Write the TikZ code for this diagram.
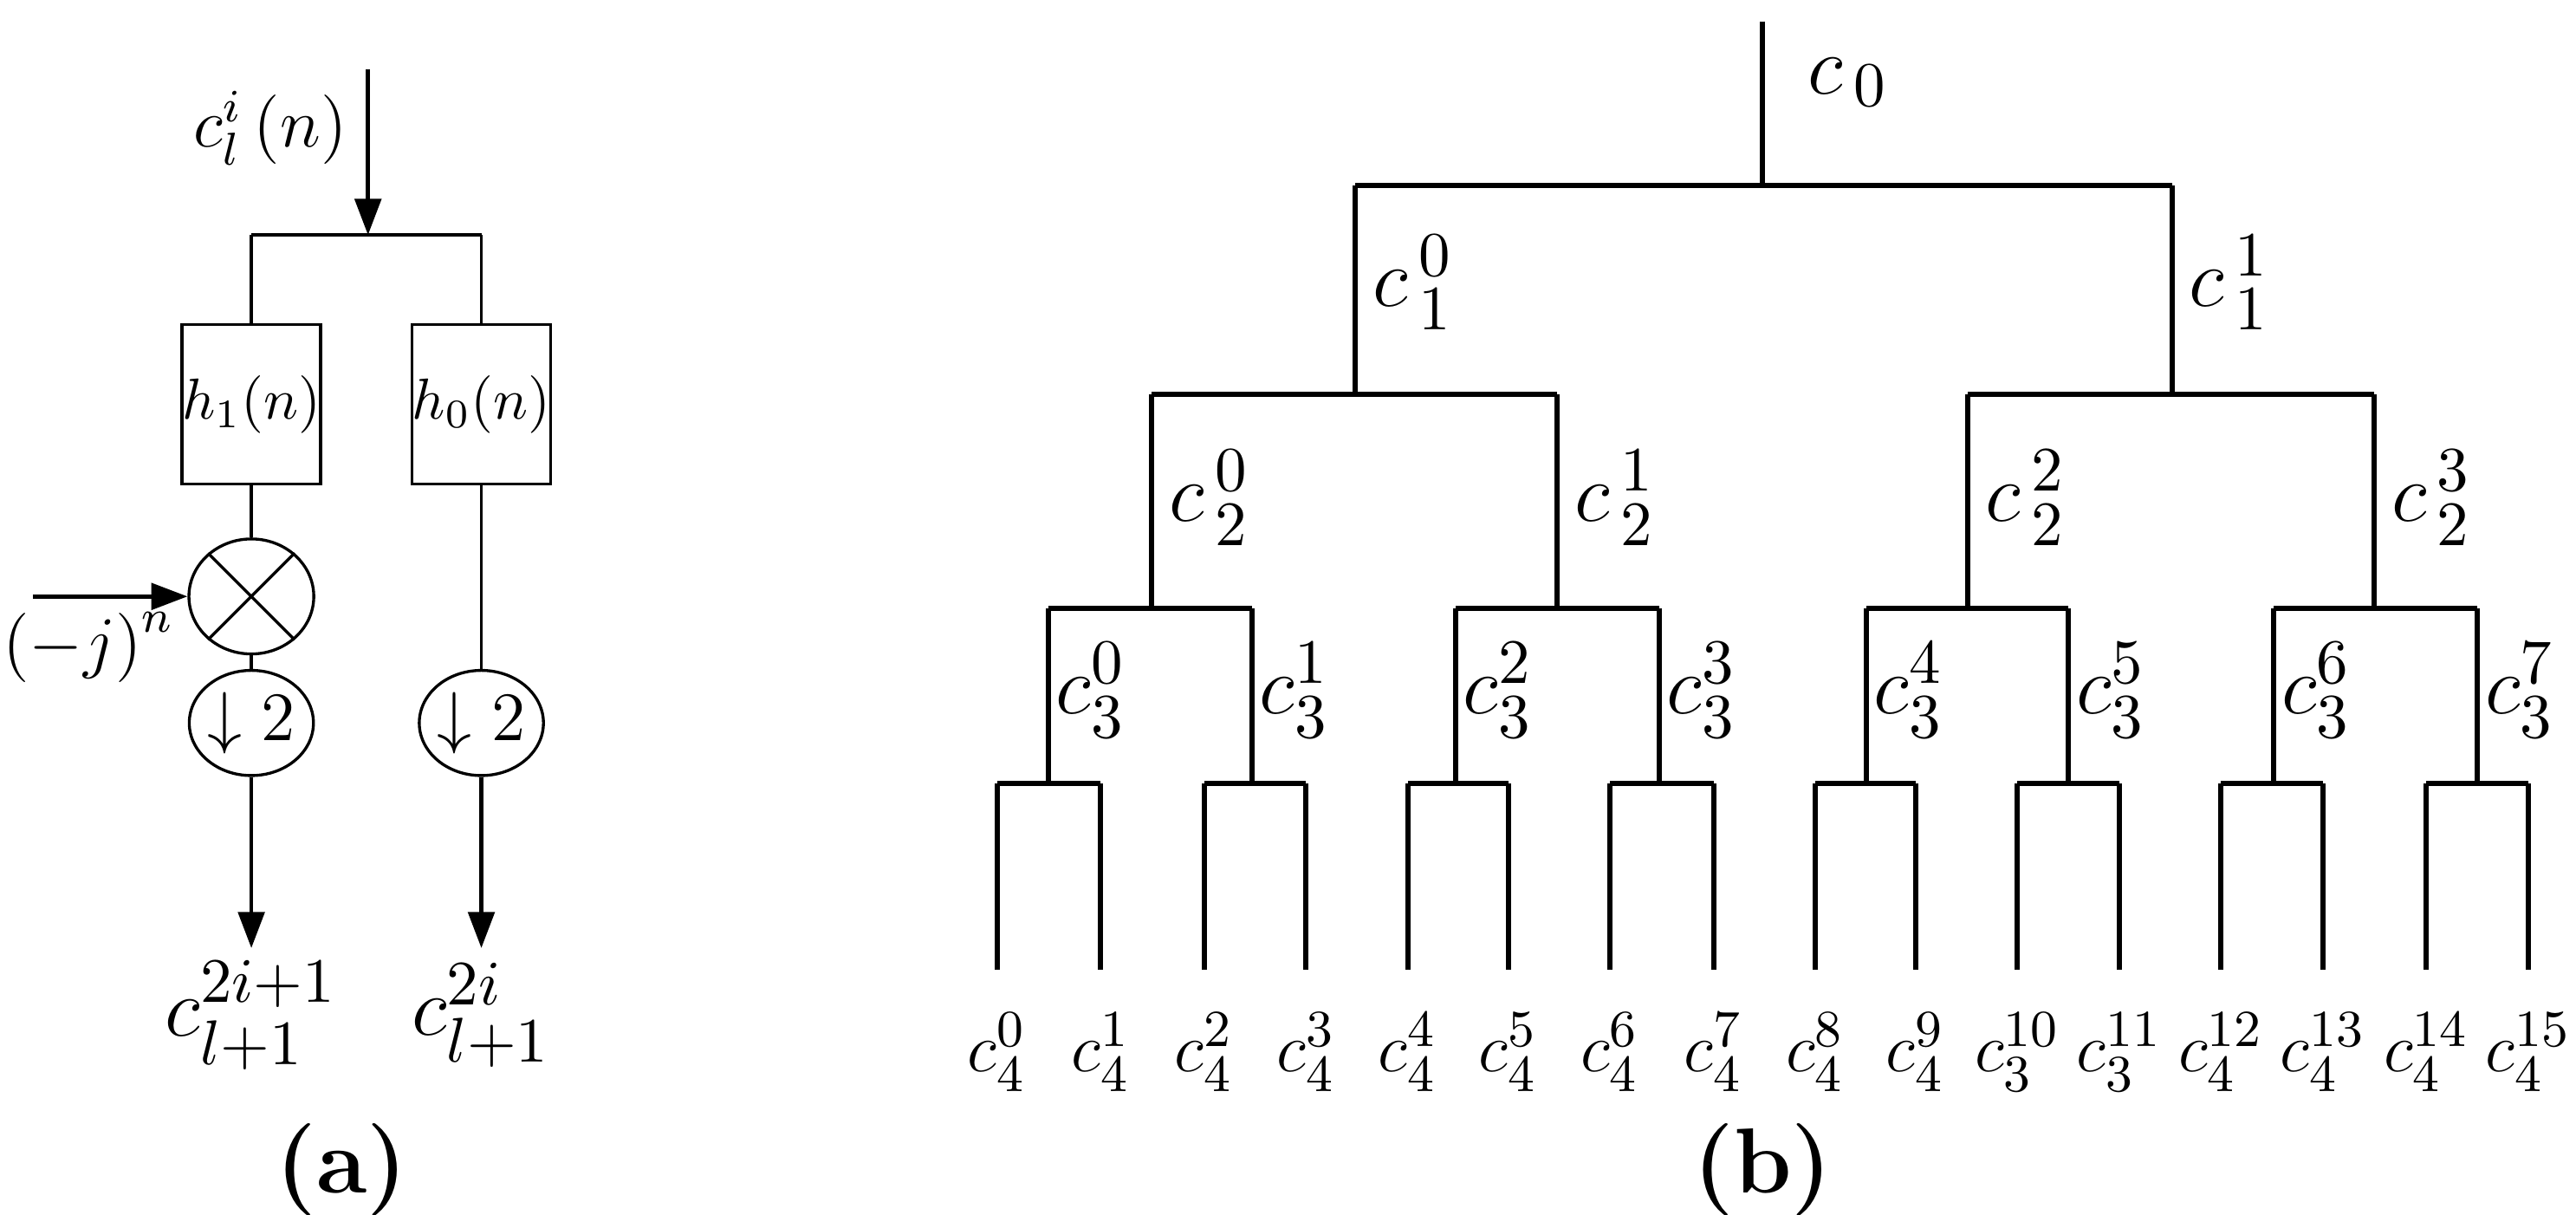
\documentclass[tikz,border=0pt]{standalone}
\usepackage{amsmath}
\usepackage{tikz}
\usetikzlibrary{shapes.geometric,arrows.meta}
\tikzset{
  tree/.style={line width=0.9pt},
  sig/.style={line width=0.5pt},
  arr/.style={line width=0.7pt,-{Triangle[length=2.2mm,width=1.6mm]}},
  lab/.style={font=\fontsize{15}{18}\selectfont,inner sep=0pt},
  alab/.style={font=\fontsize{12}{14}\selectfont,inner sep=0pt},
  leaf/.style={font=\fontsize{13}{16}\selectfont,inner sep=0pt,anchor=north},
  filt/.style={draw,line width=0.5pt,minimum width=7.5mm,minimum height=9.7mm,inner sep=0pt,font=\normalsize},
  ds/.style={draw,line width=0.5pt,ellipse,minimum width=6.6mm,minimum height=6.4mm,inner sep=0pt,font=\large},
}
\begin{document}
\begin{tikzpicture}[x=0.1mm,y=-0.1mm]
\useasboundingbox (0,0) rectangle (1568,739);

% (a) filter stage
\coordinate (in) at (224,42);
\coordinate (sp) at (224,143);
\coordinate (spl) at (153,143);
\coordinate (spr) at (293,143);
\node[filt] (h1) at (153,246) {$h_1(n)$};
\node[filt] (h0) at (293,246) {$h_0(n)$};
\node[draw,line width=0.5pt,ellipse,minimum width=7.6mm,minimum height=7mm,inner sep=0pt] (mul) at (153,363) {};
\node[ds] (d1) at (153,440) {$\downarrow 2$};
\node[ds] (d0) at (293,440) {$\downarrow 2$};
\coordinate (jn) at (20,363);
\coordinate (o1) at (153,577);
\coordinate (o0) at (293,577);

\draw[arr] (in) -- (sp);
\draw[sig] (spl) -- (spr);
\draw[sig] (spl) -- (h1.north);
\draw[sig] (spr) -- (h0.north);
\draw[sig] (h1) -- (mul);
\draw[sig] (mul.45) -- (mul.225);
\draw[sig] (mul.135) -- (mul.315);
\draw[arr] (jn) -- (mul);
\draw[sig] (mul) -- (d1);
\draw[sig] (h0) -- (d0);
\draw[arr] (d1) -- (o1);
\draw[arr] (d0) -- (o0);

\node[alab,anchor=east] (cin) at (212,78) {$c_l^i\left(n\right)$};
\node[alab] (jlab) at (54,394) {$\left(-j\right)^n$};
\node[lab] (c1) at (153,618) {$c_{l+1}^{2i+1}$};
\node[lab] (c0) at (293,618) {$c_{l+1}^{2i}$};
\node[font=\fontsize{16}{19}\selectfont\bfseries] (a) at (208,712) {(a)};

% (b) packet tree
\coordinate (n0) at (1073,13);  \coordinate (n0b) at (1073,113);
\coordinate (n10) at (825,113); \coordinate (n10b) at (825,240);
\coordinate (n11) at (1322,113); \coordinate (n11b) at (1322,240);
\coordinate (n20) at (701,240); \coordinate (n20b) at (701,370);
\coordinate (n21) at (948,240); \coordinate (n21b) at (948,370);
\coordinate (n22) at (1198,240); \coordinate (n22b) at (1198,370);
\coordinate (n23) at (1445,240); \coordinate (n23b) at (1445,370);
\coordinate (n30) at (638,370); \coordinate (n30b) at (638,477);
\coordinate (n31) at (762,370); \coordinate (n31b) at (762,477);
\coordinate (n32) at (886,370); \coordinate (n32b) at (886,477);
\coordinate (n33) at (1010,370); \coordinate (n33b) at (1010,477);
\coordinate (n34) at (1136,370); \coordinate (n34b) at (1136,477);
\coordinate (n35) at (1259,370); \coordinate (n35b) at (1259,477);
\coordinate (n36) at (1384,370); \coordinate (n36b) at (1384,477);
\coordinate (n37) at (1508,370); \coordinate (n37b) at (1508,477);

\draw[tree] (n0) -- (n0b);
\draw[tree] (n10) -- (n11);
\draw[tree] (n10) -- (n10b);
\draw[tree] (n11) -- (n11b);
\draw[tree] (n20) -- (n21);
\draw[tree] (n22) -- (n23);
\draw[tree] (n20) -- (n20b);
\draw[tree] (n21) -- (n21b);
\draw[tree] (n22) -- (n22b);
\draw[tree] (n23) -- (n23b);
\draw[tree] (n30) -- (n31);
\draw[tree] (n32) -- (n33);
\draw[tree] (n34) -- (n35);
\draw[tree] (n36) -- (n37);
\draw[tree] (n30) -- (n30b);
\draw[tree] (n31) -- (n31b);
\draw[tree] (n32) -- (n32b);
\draw[tree] (n33) -- (n33b);
\draw[tree] (n34) -- (n34b);
\draw[tree] (n35) -- (n35b);
\draw[tree] (n36) -- (n36b);
\draw[tree] (n37) -- (n37b);

\foreach \k/\x in {0/607,1/670,2/733,3/795,4/857,5/918,6/980,7/1043,
                   8/1105,9/1166,10/1228,11/1290,12/1352,13/1414,14/1477,15/1539}{
  \coordinate (n4\k) at (\x,477);
  \coordinate (n4\k b) at (\x,590);
}
\draw[tree] (n40) -- (n41);
\draw[tree] (n42) -- (n43);
\draw[tree] (n44) -- (n45);
\draw[tree] (n46) -- (n47);
\draw[tree] (n48) -- (n49);
\draw[tree] (n410) -- (n411);
\draw[tree] (n412) -- (n413);
\draw[tree] (n414) -- (n415);
\foreach \k in {0,...,15}{
  \draw[tree] (n4\k) -- (n4\k b);
}

\node[lab,anchor=west] (l0) at (1100,50) {$c_{\,0}$};
\node[lab,anchor=west] (l10) at (835,172) {$c_{\,1}^{\,0}$};
\node[lab,anchor=west] (l11) at (1332,172) {$c_{\,1}^{\,1}$};
\node[lab,anchor=west] (l20) at (711,303) {$c_{\,2}^{\,0}$};
\node[lab,anchor=west] (l21) at (958,303) {$c_{\,2}^{\,1}$};
\node[lab,anchor=west] (l22) at (1208,303) {$c_{\,2}^{\,2}$};
\node[lab,anchor=west] (l23) at (1455,303) {$c_{\,2}^{\,3}$};
\node[lab,anchor=west] (l30) at (642,420) {$c_3^0$};
\node[lab,anchor=west] (l31) at (766,420) {$c_3^1$};
\node[lab,anchor=west] (l32) at (890,420) {$c_3^2$};
\node[lab,anchor=west] (l33) at (1014,420) {$c_3^3$};
\node[lab,anchor=west] (l34) at (1140,420) {$c_3^4$};
\node[lab,anchor=west] (l35) at (1263,420) {$c_3^5$};
\node[lab,anchor=west] (l36) at (1388,420) {$c_3^6$};
\node[lab,anchor=west] (l37) at (1512,420) {$c_3^7$};

\node[leaf] (f0) at (n40b|-0,616) {$c_4^0$};
\node[leaf] (f1) at (n41b|-0,616) {$c_4^1$};
\node[leaf] (f2) at (n42b|-0,616) {$c_4^2$};
\node[leaf] (f3) at (n43b|-0,616) {$c_4^3$};
\node[leaf] (f4) at (n44b|-0,616) {$c_4^4$};
\node[leaf] (f5) at (n45b|-0,616) {$c_4^5$};
\node[leaf] (f6) at (n46b|-0,616) {$c_4^6$};
\node[leaf] (f7) at (n47b|-0,616) {$c_4^7$};
\node[leaf] (f8) at (n48b|-0,616) {$c_4^8$};
\node[leaf] (f9) at (n49b|-0,616) {$c_4^9$};
\node[leaf] (f10) at (n410b|-0,616) {$c_3^{10}$};
\node[leaf] (f11) at (n411b|-0,616) {$c_3^{11}$};
\node[leaf] (f12) at (n412b|-0,616) {$c_4^{12}$};
\node[leaf] (f13) at (n413b|-0,616) {$c_4^{13}$};
\node[leaf] (f14) at (n414b|-0,616) {$c_4^{14}$};
\node[leaf] (f15) at (n415b|-0,616) {$c_4^{15}$};

\node[font=\fontsize{16}{19}\selectfont\bfseries] (b) at (1073,712) {(b)};
\end{tikzpicture}
\end{document}
